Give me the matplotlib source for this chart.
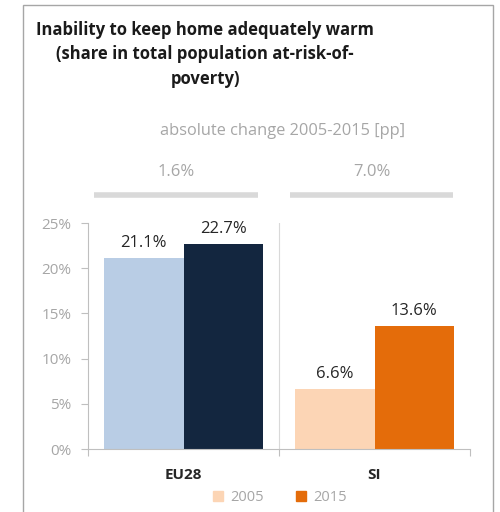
import matplotlib.pyplot as plt
from matplotlib.patches import Rectangle
from matplotlib.lines import Line2D

plt.rcParams['font.family'] = ['Open Sans', 'DejaVu Sans']

# data
categories = ['EU28', 'SI']
years = ['2005', '2015']
values_2005 = [21.1, 6.6]
values_2015 = [22.7, 13.6]
yticks = [0, 5, 10, 15, 20, 25]

col_2005 = ['#B9CDE5', '#FCD5B5']
col_2015 = ['#13263F', '#E46C0A']
grey = '#A6A6A6'
txt = '#262626'

fig = plt.figure(figsize=(5, 5.12), dpi=100)

# outer frame
fig.patches.append(Rectangle((0.046, -0.01), 0.94, 1.0, transform=fig.transFigure,
                             fill=False, edgecolor='#A6A6A6', lw=1.0))

ax = fig.add_axes([0.176, 0.123, 0.764, 0.4414])
w = 0.415
x = range(len(categories))
ax.bar([i - w / 2 for i in x], values_2005, width=w, color=col_2005, label=years[0])
ax.bar([i + w / 2 for i in x], values_2015, width=w, color=col_2015, label=years[1])

for i in x:
    ax.text(i - w / 2, values_2005[i] + 0.8, f'{values_2005[i]:.1f}%', ha='center',
            va='bottom', fontsize=12, color=txt)
    ax.text(i + w / 2, values_2015[i] + 0.8, f'{values_2015[i]:.1f}%', ha='center',
            va='bottom', fontsize=12, color=txt)

ax.set_xlim(-0.5, 1.5)
ax.set_ylim(0, 25)
ax.set_yticks(yticks)
ax.set_yticklabels([f'{t}%' for t in yticks], color=grey, fontsize=11)
ax.set_xticks([-0.5, 0.5, 1.5], minor=False)
ax.set_xticklabels([])
ax.tick_params(axis='x', length=5, color='#BFBFBF')
ax.tick_params(axis='y', length=5, color='#BFBFBF', pad=7)
for i, c in enumerate(categories):
    ax.text(i, -2.1, c, ha='center', va='top', fontsize=11, fontweight='bold', color=txt)

for s in ['top', 'right']:
    ax.spines[s].set_visible(False)
ax.spines['left'].set_color('#BFBFBF')
ax.spines['bottom'].set_color('#BFBFBF')
ax.axvline(0.5, color='#D9D9D9', lw=0.8)

# change bars and values above the plot
spans = [(-0.47, 0.39), (0.56, 1.41)]
for i, (a, b) in enumerate(spans):
    ax.add_line(Line2D([a, b], [1.124, 1.124], transform=ax.get_xaxis_transform(),
                       color='#D9D9D9', lw=4, clip_on=False, solid_capstyle='butt'))
    diff = values_2015[i] - values_2005[i]
    ax.text((a + b) / 2, 1.225, f'{diff:.1f}%', transform=ax.get_xaxis_transform(),
            ha='center', va='center', fontsize=12, color=grey)

fig.text(0.566, 0.744, 'absolute change 2005-2015 [pp]', ha='center', va='center',
         fontsize=11.8, color=grey)

fig.text(0.41, 0.894, 'Inability to keep home adequately warm\n'
         '(share in total population at-risk-of-\npoverty)',
         ha='center', va='center', fontsize=12, fontweight='bold', color='#1a1a1a',
         linespacing=1.45)

# legend
handles = [Rectangle((0, 0), 1, 1, color=col_2005[1]), Rectangle((0, 0), 1, 1, color=col_2015[1])]
fig.legend(handles, years, loc='center', bbox_to_anchor=(0.56, 0.028), ncol=2,
           frameon=False, fontsize=10.5, labelcolor=grey, handlelength=0.7, handleheight=0.7,
           columnspacing=2.2, handletextpad=0.5)

fig.savefig('out.png', dpi=100)
